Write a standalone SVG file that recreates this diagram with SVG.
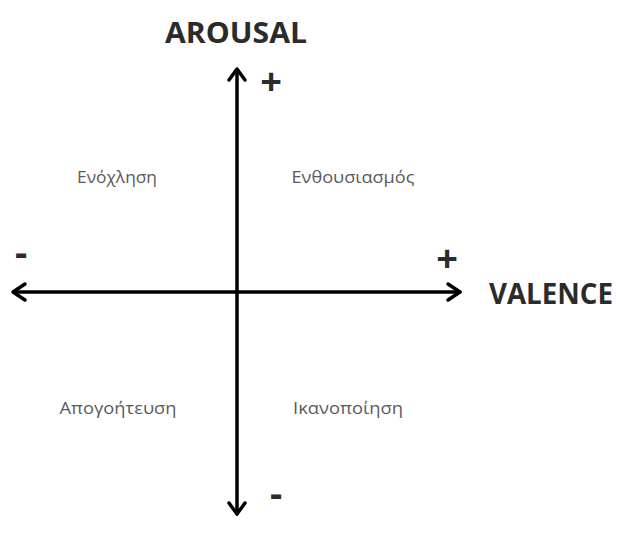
<svg xmlns="http://www.w3.org/2000/svg" width="621" height="545" viewBox="0 0 621 545">
<style>
.ax{stroke:#000;stroke-width:3.5;fill:none;stroke-linecap:round;stroke-linejoin:round}
.title{font-family:"Open Sans","Liberation Sans",sans-serif;font-weight:bold;fill:#2b2b2b}
.sign{font-family:"Open Sans","Liberation Sans",sans-serif;font-weight:bold;fill:#2b2b2b;text-anchor:middle}
.q{font-family:"Open Sans","Liberation Sans",sans-serif;font-size:16px;fill:#5a5a5a;text-anchor:middle}
</style>
<rect width="621" height="545" fill="#fff"/>
<g id="connectors">
<line class="ax" x1="237" y1="70" x2="237" y2="514"/>
<polyline class="ax" points="229,80 237,69 245,80"/>
<polyline class="ax" points="229,503 237,514 245,503"/>
<line class="ax" x1="14" y1="292" x2="460" y2="292"/>
<polyline class="ax" points="25,284 13,292 25,300"/>
<polyline class="ax" points="448,284 460,292 448,300"/>
</g>
<g id="arousal"><text class="title" x="165" y="43" font-size="28" textLength="142" lengthAdjust="spacingAndGlyphs">AROUSAL</text></g>
<g id="valence"><text class="title" x="489" y="304" font-size="29" textLength="124" lengthAdjust="spacingAndGlyphs">VALENCE</text></g>
<g id="plus-top"><text class="sign" x="271" y="95" font-size="38">+</text></g>
<g id="plus-right"><text class="sign" x="447" y="272" font-size="38">+</text></g>
<g id="minus-left"><text class="sign" x="21" y="266" font-size="38">-</text></g>
<g id="minus-bottom"><text class="sign" x="276" y="507" font-size="38">-</text></g>
<g id="q-tl"><text class="q" x="117" y="183" textLength="80" lengthAdjust="spacingAndGlyphs">Ενόχληση</text></g>
<g id="q-tr"><text class="q" x="353" y="183" textLength="123" lengthAdjust="spacingAndGlyphs">Ενθουσιασμός</text></g>
<g id="q-bl"><text class="q" x="118" y="414" textLength="117" lengthAdjust="spacingAndGlyphs">Απογοήτευση</text></g>
<g id="q-br"><text class="q" x="348" y="414" textLength="110" lengthAdjust="spacingAndGlyphs">Ικανοποίηση</text></g>
</svg>
